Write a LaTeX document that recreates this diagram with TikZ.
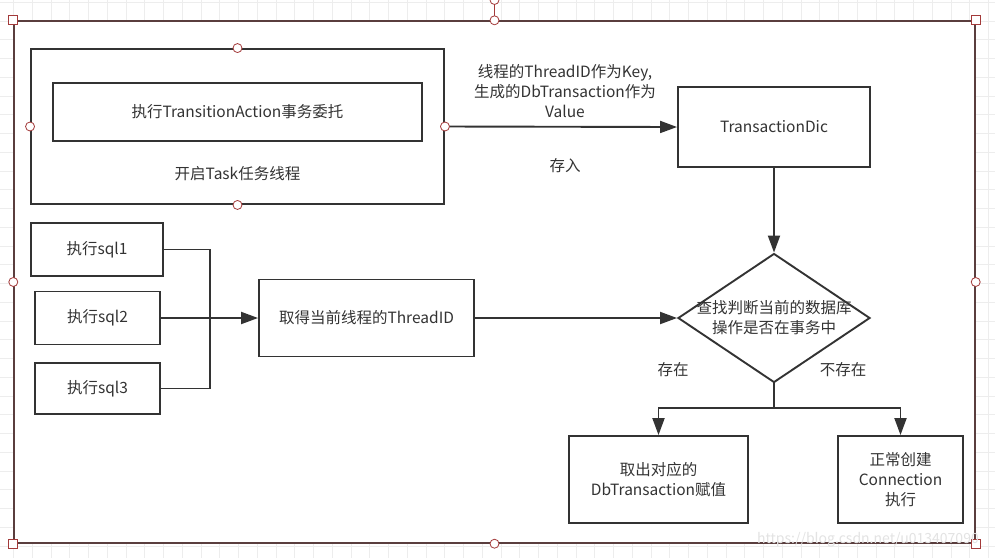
\documentclass[tikz,border=0pt]{standalone}
\usepackage{fontspec}
\setmainfont{Noto Sans CJK SC}
\usetikzlibrary{arrows.meta,shapes.geometric,positioning}
\definecolor{inkgray}{HTML}{333333}
\definecolor{framebrown}{HTML}{5A3E3E}
\definecolor{handlered}{HTML}{A33A3A}
\definecolor{gridgray}{HTML}{EDEDED}

\begin{document}
\begin{tikzpicture}[x=1pt, y=-1pt,
    every node/.style={font=\fontsize{15.5}{20}\selectfont, text=inkgray},
    box/.style={draw=inkgray, line width=1.9pt, fill=white, inner sep=0pt, align=center},
    decision/.style={diamond, draw=inkgray, line width=1.9pt, inner sep=0pt},
    link/.style={draw=inkgray, line width=1.9pt},
    flow/.style={link, -{Triangle[length=17pt, width=12pt]}},
    handledot/.style={circle, draw=handlered, line width=0.8pt, fill=white, inner sep=0pt, minimum size=9pt},
    handlesq/.style={rectangle, draw=handlered, line width=0.8pt, fill=white, inner sep=0pt, minimum size=9pt}]
    \useasboundingbox (0, 0) rectangle (995, 558);
    % editor grid
    \foreach \gx in {0,...,53}
        \draw[gridgray, line width=0.6pt] ({\gx*18.75-5.4}, 0) -- ++(0, 558);
    \foreach \gy in {0,...,30}
        \draw[gridgray, line width=0.6pt] (0, {\gy*18.75+2.25}) -- ++(995, 0);
    \node[draw=framebrown, line width=1.4pt, fill=white, minimum width=961pt,
        minimum height=522pt, inner sep=0pt] (frame) at (494.5, 282) {};

    % task thread
    \node[box, minimum width=413pt, minimum height=155pt] (task) at (237.5, 126.5) {};
    \node[box, minimum width=369pt, minimum height=58pt] (delegate)
        at (237.5, 112) {执行TransitionAction事务委托};
    \node (tasklabel) at (237.5, 174) {开启Task任务线程};
    \node[box, minimum width=192pt, minimum height=80pt] (dic)
        at (774, 127) {TransactionDic};
    \draw[flow] (task.east) -- (dic.west)
        node[midway, anchor=south, yshift=5pt, align=center, xshift=4pt]
        {线程的ThreadID作为Key,\\生成的DbTransaction作为\\Value}
        node[midway, anchor=north, yshift=-27pt, xshift=4pt] {存入};

    % sql statements
    \node[box, minimum width=132pt, minimum height=53pt] (sql1) at (97, 249.5) {执行sql1};
    \node[box, minimum width=125pt, minimum height=53pt] (sql2) at (97.5, 318) {执行sql2};
    \node[box, minimum width=125pt, minimum height=51pt] (sql3) at (97.5, 388.5) {执行sql3};
    \node[box, minimum width=215pt, minimum height=77pt] (thread)
        at (366.5, 318) {取得当前线程的ThreadID};
    \coordinate (join) at (210, 318);
    \draw[link] (sql1.east) -| (join);
    \draw[link] (sql3.east) -| (join);
    \draw[flow] (sql2.east) -- (thread.west);

    % decision
    \node[decision, minimum width=192pt, minimum height=129pt] (check) at (774, 318) {};
    \node[align=center] (checktext) at (check.center) {查找判断当前的数据库\\操作是否在事务中};
    \draw[flow] (dic.south) -- (check.north);
    \draw[flow] (thread.east) -- (check.west);

    \node[box, minimum width=179pt, minimum height=87pt] (fetch)
        at (658.5, 479.5) {取出对应的\\DbTransaction赋值};
    \node[box, minimum width=125pt, minimum height=87pt] (create)
        at (900.5, 479.5) {正常创建\\Connection\\执行};
    \coordinate (split) at (774, 408);
    \draw[link] (check.south) -- (split);
    \draw[flow] (split) -| (fetch.north);
    \draw[flow] (split) -| (create.north);
    \node (yes) at (673, 370) {存在};
    \node (no) at (843, 370) {不存在};

    % selection handles
    \node[handledot] (rot) at (494.5, 0) {};
    \draw[handlered, line width=0.8pt] (frame.north) -- (rot);
    \foreach \corner in {north west, north east, south west, south east}
        \node[handlesq] at (frame.\corner) {};
    \foreach \side in {north, south, east, west} {
        \node[handledot] at (frame.\side) {};
        \node[handledot] at (task.\side) {};
    }
    \node[text=gray!22, font=\fontsize{14}{16}\selectfont] (mark)
        at (868, 540) {https://blog.csdn.net/u013407090};
\end{tikzpicture}
\end{document}
